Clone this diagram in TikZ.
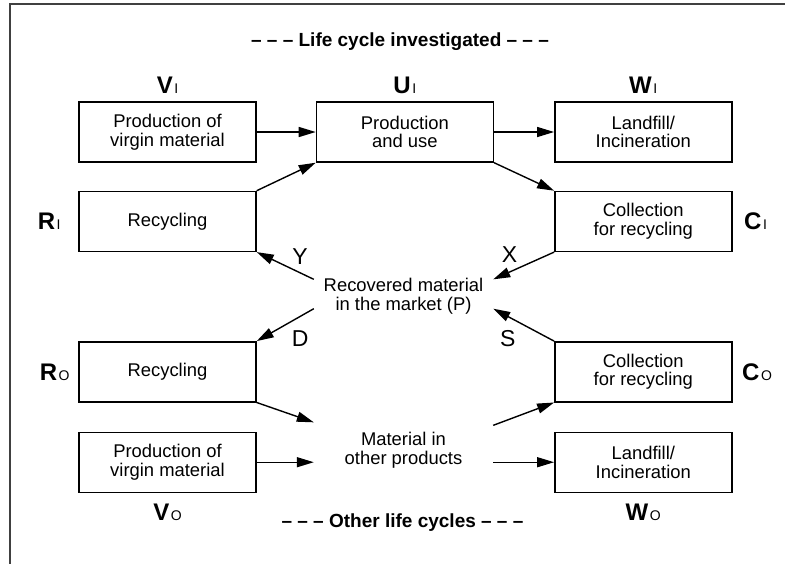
\documentclass[tikz,border=0pt]{standalone}
\usepackage{fontspec}
\setmainfont{Liberation Sans}
\usepackage{tikz}
\usetikzlibrary{positioning,arrows.meta}

\newcommand{\stagetag}[2]{{\fontsize{12}{13}\selectfont\bfseries #1}\kern0.8pt{\fontsize{7}{8}\selectfont #2}}

\begin{document}
\begin{tikzpicture}[%
    ->,>={Triangle[length=8.5pt,width=5pt]},line width=0.7pt,x=1pt,y=1pt,
    node distance=14pt,
    stage/.style={%
      rectangle,draw,minimum width=88.5pt,minimum height=30pt,
      align=center,inner sep=0pt,font=\fontsize{9.2}{9.4}\selectfont},
    pool/.style={%
      align=center,inner sep=0pt,minimum width=89pt,
      font=\fontsize{9.2}{9.4}\selectfont},
    tag/.style={inner sep=0pt},
    flowlabel/.style={inner sep=0pt,font=\fontsize{11.5}{12}\selectfont},
    heading/.style={inner sep=0pt,font=\fontsize{9.5}{10}\selectfont\bfseries}
  ]
    \useasboundingbox (0,0) rectangle (392.5,-282);
    \draw[-,line width=0.8pt,black!75] (392.5,-2) -- (5,-2) -- (5,-282);

    \node[heading,anchor=base] (top) at (200,-23)     {-- -- -- Life cycle investigated -- -- --};
    \node[heading,anchor=base] (bottom) at (201.25,-263.5) {-- -- -- Other life cycles -- -- --};

    % life cycle investigated
    \node[stage] (vi) at (83.75,-66)               {Production of\\virgin material};
    \node[stage] (ui) [right=29.5pt of vi]         {Production\\and use};
    \node[stage] (wi) [right=30pt of ui]           {Landfill/\\Incineration};
    \node[stage] (ri) [below=of vi]                {Recycling};
    \node[stage] (ci) [below=of wi]                {Collection\\for recycling};
    % other life cycles
    \node[stage] (ro) [below=44.5pt of ri]         {Recycling};
    \node[stage] (co) [below=44.5pt of ci]         {Collection\\for recycling};
    \node[stage] (vo) [below=14.5pt of ro]         {Production of\\virgin material};
    \node[stage] (wo) [below=14.5pt of co]         {Landfill/\\Incineration};
    \node[pool] (rec) at (201.75,-148)             {Recovered material\\in the market (P)};
    \node[pool] (mat) at (201.75,-225)             {Material in\\other products};

    \node[tag] (tvi) [above=3.5pt of vi]  {\stagetag{V}{I}};
    \node[tag] (tui) [above=3.5pt of ui]  {\stagetag{U}{I}};
    \node[tag] (twi) [above=3.5pt of wi]  {\stagetag{W}{I}};
    \node[tag] (tri) [left=8.5pt of ri]   {\stagetag{R}{I}};
    \node[tag] (tci) [right=5.5pt of ci]  {\stagetag{C}{I}};
    \node[tag] (tro) [left=4pt of ro]     {\stagetag{R}{O}};
    \node[tag] (tco) [right=4.5pt of co]  {\stagetag{C}{O}};
    \node[tag] (tvo) [below=5pt of vo]    {\stagetag{V}{O}};
    \node[tag] (two) [below=5pt of wo]    {\stagetag{W}{O}};

    \path (vi) edge (ui)
          (ui) edge (wi)
          (ri.north east) edge (ui.south west)
          (ui.south east) edge (ci.north west)
          (ci.south west) edge node[pos=.73,above=4.5pt,flowlabel] {X} ([yshift=-1pt]rec.north east)
          ([yshift=-1pt]rec.north west) edge node[pos=.24,above=4pt,flowlabel] {Y} (ri.south east)
          ([yshift=3pt]rec.south west) edge node[pos=.24,below=7pt,flowlabel] {D} (ro.north east)
          (co.north west) edge node[pos=.76,below=6.5pt,flowlabel] {S} ([yshift=3pt]rec.south east)
          (ro.south east) edge ([yshift=4.5pt]mat.north west)
          ([yshift=3pt]mat.north east) edge (co.south west)
          (vo) edge (vo -| mat.west)
          (wo -| mat.east) edge (wo)
          ;
\end{tikzpicture}
\end{document}
